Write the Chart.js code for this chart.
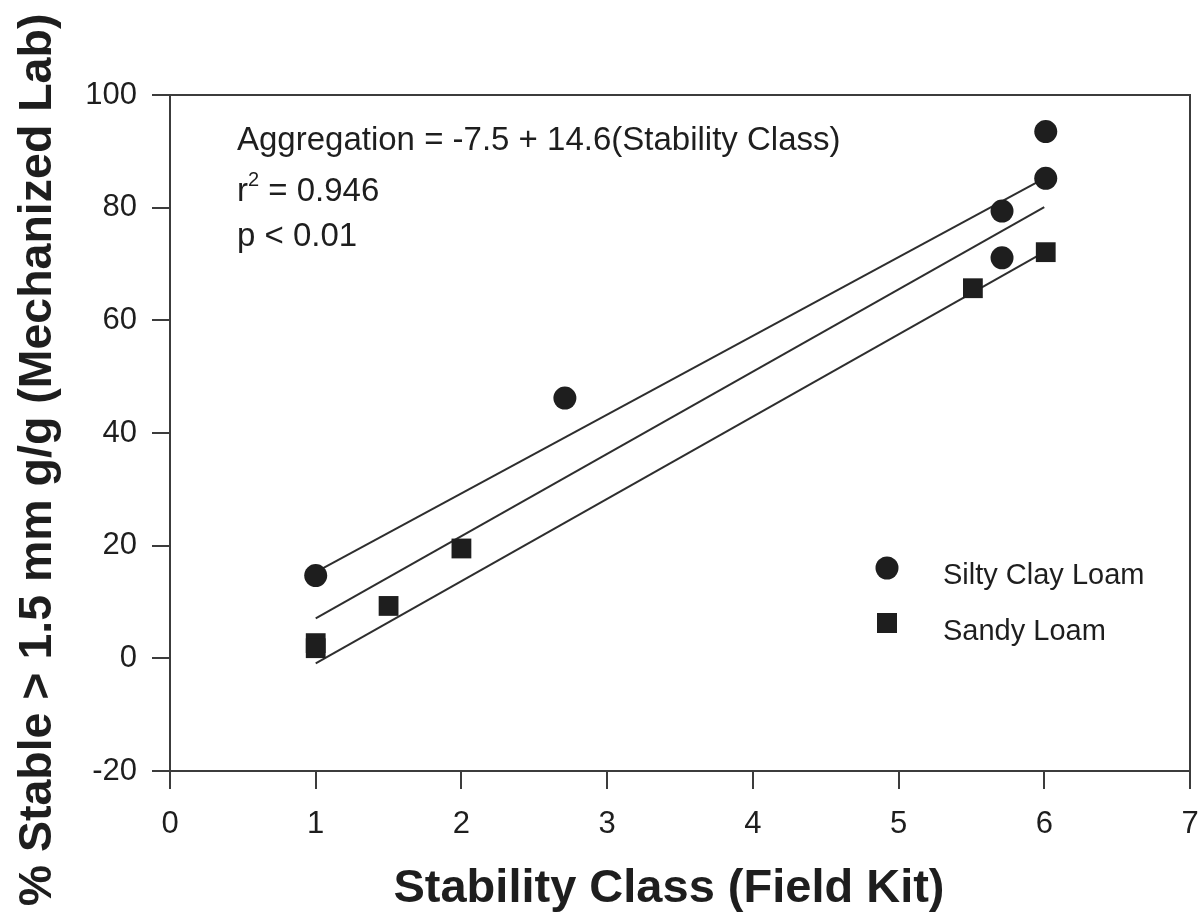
<!DOCTYPE html>
<html>
<head>
<meta charset="utf-8">
<title>Stability Class vs Aggregation</title>
<script src="https://cdn.jsdelivr.net/npm/chart.js@4.4.1/dist/chart.umd.min.js"></script>
<style>
    html, body { margin: 0; padding: 0; background: #fff; }
    #wrap { width: 1204px; height: 919px; }
</style>
</head>
<body>
<div id="wrap"><canvas id="agg-chart" width="1204" height="919"></canvas></div>
<script>
/***************************  Data  ******************************/
var siltyX = [1, 2.71, 5.71, 5.71, 6.01, 6.01];
var siltyY = [14.7, 46.2, 79.4, 71.1, 85.2, 93.5];
var sandyX = [1, 1, 1.5, 2.0, 5.51, 6.01];
var sandyY = [2.7, 1.8, 9.3, 19.5, 65.7, 72.1];
// fitted line and its two bounds, end points only
var lineX = [1, 6];
var fitY = [7.1, 80.1];
var upperY = [15.3, 85.2];
var lowerY = [-0.9, 72.1];
var xTicks = [0, 1, 2, 3, 4, 5, 6, 7];
var yTicks = [-20, 0, 20, 40, 60, 80, 100];
var seriesNames = ['Silty Clay Loam', 'Sandy Loam'];
var noteLines = ['Aggregation = -7.5 + 14.6(Stability Class)', 'r', '2', ' = 0.946', 'p < 0.01'];
var xTitle = 'Stability Class (Field Kit)';
var yTitle = '% Stable > 1.5 mm g/g (Mechanized Lab)';

var FONT = '"Liberation Sans", Arial, sans-serif';
var INK = '#1e1e1e';
var AXIS = '#3c3c3c';

function toPoints(xs, ys) {
    var pts = [];
    for (var i = 0; i < xs.length; i++) {
        pts.push({x: xs[i], y: ys[i]});
    }
    return pts;
}

function lineSet(ys) {
    return {
        type: 'line',
        data: toPoints(lineX, ys),
        borderColor: '#2e2e2e',
        borderWidth: 2,
        pointRadius: 0,
        showLine: true,
        fill: false,
        order: 2
    };
}

/***********************  Text overlay  ************************/
var overlay = {
    id: 'overlay',
    afterDraw: function(chart) {
        var ctx = chart.ctx, a = chart.chartArea;
        ctx.save();
        // box: top and right sides
        ctx.strokeStyle = AXIS;
        ctx.lineWidth = 2;
        ctx.beginPath();
        ctx.moveTo(a.left, a.top);
        ctx.lineTo(a.right, a.top);
        ctx.lineTo(a.right, a.bottom);
        ctx.stroke();

        // regression note
        ctx.fillStyle = INK;
        ctx.textAlign = 'left';
        ctx.textBaseline = 'alphabetic';
        ctx.font = '33px ' + FONT;
        ctx.fillText(noteLines[0], 237, 150);
        ctx.fillText(noteLines[1], 237, 201);
        var rw = ctx.measureText(noteLines[1]).width;
        ctx.font = '20px ' + FONT;
        ctx.fillText(noteLines[2], 237 + rw, 186);
        var sw = ctx.measureText(noteLines[2]).width;
        ctx.font = '33px ' + FONT;
        ctx.fillText(noteLines[3], 237 + rw + sw, 201);
        ctx.fillText(noteLines[4], 237, 246);

        // legend
        ctx.fillStyle = INK;
        ctx.beginPath();
        ctx.arc(887, 568, 11.5, 0, Math.PI * 2);
        ctx.fill();
        ctx.fillRect(877, 613, 20, 20);
        ctx.font = '29px ' + FONT;
        ctx.fillText(seriesNames[0], 943, 584);
        ctx.fillText(seriesNames[1], 943, 640);

        // axis titles
        ctx.font = 'bold 47px ' + FONT;
        ctx.textAlign = 'center';
        ctx.fillText(xTitle, 669, 902);
        ctx.font = 'bold 46.5px ' + FONT;
        ctx.translate(51, 460);
        ctx.rotate(-Math.PI / 2);
        ctx.fillText(yTitle, 0, 0);
        ctx.restore();
    }
};

/***************************  Chart  ******************************/
var ctx = document.getElementById('agg-chart');
var aggChart = new Chart(ctx, {
    type: 'scatter',
    data: {
        datasets: [
            {
                label: seriesNames[0],
                data: toPoints(siltyX, siltyY),
                pointStyle: 'circle',
                pointRadius: 11.5,
                pointHoverRadius: 11.5,
                backgroundColor: INK,
                borderColor: INK,
                borderWidth: 0,
                order: 1
            },
            {
                label: seriesNames[1],
                data: toPoints(sandyX, sandyY),
                pointStyle: 'rect',
                pointRadius: 14,
                pointHoverRadius: 14,
                backgroundColor: INK,
                borderColor: INK,
                borderWidth: 0,
                order: 1
            },
            lineSet(upperY),
            lineSet(fitY),
            lineSet(lowerY)
        ]
    },
    options: {
        responsive: false,
        animation: false,
        events: [],
        layout: {padding: {left: 0, top: 95, right: 10, bottom: 0}},
        plugins: {
            legend: {display: false},
            tooltip: {enabled: false}
        },
        scales: {
            x: {
                type: 'linear',
                min: 0,
                max: 7,
                afterBuildTicks: function(scale) {
                    scale.ticks = xTicks.map(function(v) { return {value: v}; });
                },
                afterFit: function(scale) {
                    scale.height = 148;
                    scale.paddingLeft = 0;
                    scale.paddingRight = 0;
                },
                ticks: {
                    color: INK,
                    font: {family: FONT, size: 31},
                    padding: 17
                },
                grid: {
                    drawOnChartArea: false,
                    drawTicks: true,
                    tickLength: 18,
                    color: AXIS,
                    lineWidth: 2
                },
                border: {display: true, color: AXIS, width: 2}
            },
            y: {
                type: 'linear',
                min: -20,
                max: 100,
                afterBuildTicks: function(scale) {
                    scale.ticks = yTicks.map(function(v) { return {value: v}; });
                },
                afterFit: function(scale) {
                    scale.width = 170;
                    scale.paddingTop = 0;
                    scale.paddingBottom = 0;
                },
                ticks: {
                    color: INK,
                    font: {family: FONT, size: 31},
                    padding: 15
                },
                grid: {
                    drawOnChartArea: false,
                    drawTicks: true,
                    tickLength: 18,
                    color: AXIS,
                    lineWidth: 2
                },
                border: {display: true, color: AXIS, width: 2}
            }
        }
    },
    plugins: [overlay]
});
</script>
</body>
</html>
